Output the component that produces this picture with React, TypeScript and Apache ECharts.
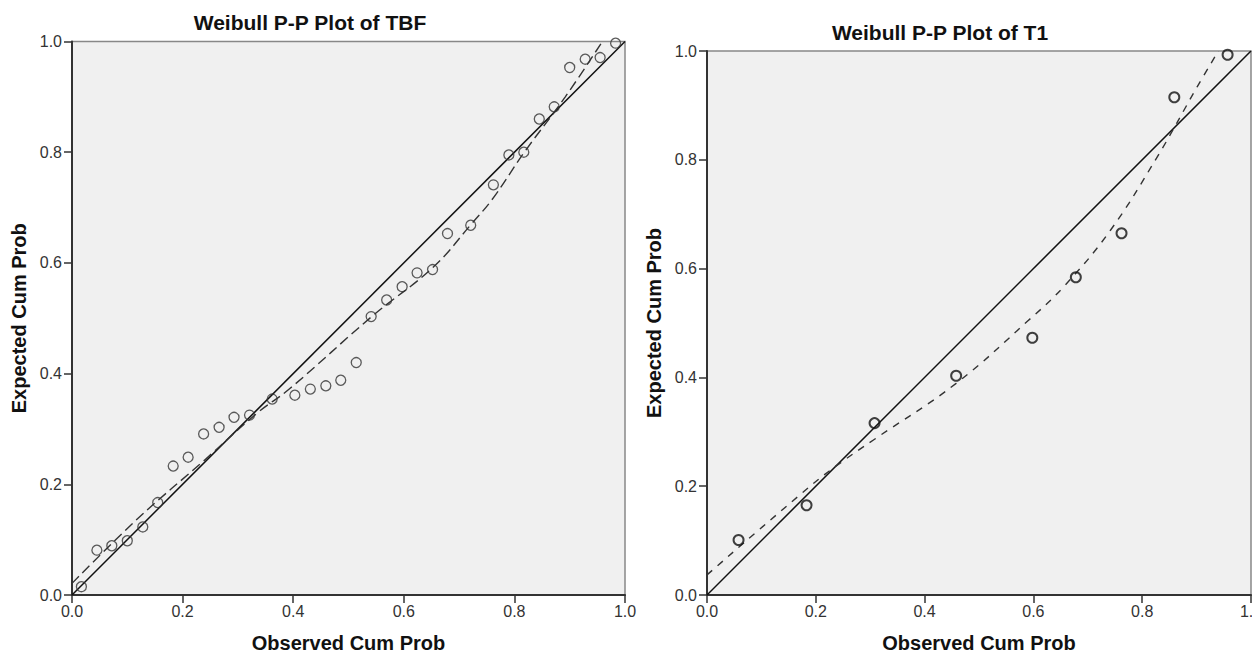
import React, { useEffect, useRef } from "react";
import * as echarts from "echarts";

// ---- TBF (left panel) ----
const tbfObserved = [
  0.017, 0.045, 0.072, 0.1, 0.128, 0.155, 0.183, 0.21, 0.238, 0.266, 0.293, 0.321,
  0.362, 0.403, 0.431, 0.459, 0.486, 0.514, 0.541, 0.569, 0.597, 0.624, 0.652, 0.679,
  0.721, 0.762, 0.79, 0.817, 0.845, 0.872, 0.9, 0.928, 0.955, 0.983,
];
const tbfExpected = [
  0.015, 0.081, 0.089, 0.098, 0.123, 0.167, 0.233, 0.249, 0.291, 0.303, 0.321, 0.325,
  0.354, 0.361, 0.372, 0.378, 0.388, 0.42, 0.503, 0.533, 0.557, 0.582, 0.588, 0.653,
  0.668, 0.741, 0.795, 0.8, 0.86, 0.882, 0.953, 0.968, 0.971, 0.997,
];
const tbfFitX = [0, 0.12, 0.24, 0.334, 0.394, 0.542, 0.654, 0.722, 0.76, 0.818, 0.892, 0.959];
const tbfFitY = [0.021, 0.139, 0.244, 0.328, 0.373, 0.503, 0.593, 0.67, 0.715, 0.8, 0.9, 1.0];

// ---- T1 (right panel) ----
const t1Observed = [0.058, 0.183, 0.308, 0.458, 0.598, 0.678, 0.762, 0.859, 0.957];
const t1Expected = [0.101, 0.165, 0.316, 0.403, 0.473, 0.584, 0.665, 0.915, 0.993];
const t1FitX = [0, 0.192, 0.244, 0.306, 0.458, 0.59, 0.656, 0.742, 0.828, 0.901, 0.94];
const t1FitY = [0.037, 0.202, 0.242, 0.285, 0.389, 0.504, 0.567, 0.671, 0.806, 0.934, 1.0];

// reference line
const refX = [0, 1];
const refY = [0, 1];

const titles = ["Weibull P-P Plot of TBF", "Weibull P-P Plot of T1"];
const xTitle = "Observed Cum Prob";
const yTitle = "Expected Cum Prob";

const FONT = '"Liberation Sans", Arial, sans-serif';

const zip = (a: number[], b: number[]) => a.map((v, i) => [v, b[i]]);

function axis(gridIndex: number, isX: boolean) {
  return {
    type: "value",
    gridIndex,
    min: 0,
    max: 1,
    interval: 0.2,
    name: isX ? xTitle : yTitle,
    nameLocation: "middle",
    nameGap: isX ? 38 : 43,
    nameTextStyle: { fontFamily: FONT, fontWeight: "bold", fontSize: 20, color: "#111" },
    axisLine: { show: true, lineStyle: { color: "#333", width: 2 } },
    axisTick: { show: true, inside: false, length: 8, lineStyle: { color: "#333", width: 1.5 } },
    axisLabel: {
      fontFamily: FONT,
      fontSize: 16,
      color: "#333",
      margin: isX ? 8 : 10,
      formatter: (v: number) => v.toFixed(1),
    },
    splitLine: { show: false },
  };
}

function panelSeries(idx: number, ox: number[], oy: number[], fx: number[], fy: number[], dash: number[], ptBorder: number, ptColor: string) {
  return [
    {
      type: "line",
      xAxisIndex: idx,
      yAxisIndex: idx,
      data: zip(refX, refY),
      showSymbol: false,
      lineStyle: { color: "#111", width: 1.5 },
      z: 2,
    },
    {
      type: "line",
      xAxisIndex: idx,
      yAxisIndex: idx,
      data: zip(fx, fy),
      showSymbol: false,
      smooth: 0.4,
      lineStyle: { color: "#333", width: 1.4, type: dash },
      z: 2,
    },
    {
      type: "scatter",
      xAxisIndex: idx,
      yAxisIndex: idx,
      data: zip(ox, oy),
      symbol: "circle",
      symbolSize: 10,
      itemStyle: { color: "rgba(0,0,0,0)", borderColor: ptColor, borderWidth: ptBorder },
      z: 3,
    },
  ];
}

export default function App() {
  const ref = useRef<HTMLDivElement>(null);
  useEffect(() => {
    if (!ref.current) return;
    const chart = echarts.init(ref.current, null, { renderer: "svg" });
    chart.setOption({
      animation: false,
      backgroundColor: "#ffffff",
      grid: [
        {
          left: 72, top: 41.5, width: 553, height: 553.5,
          show: true, backgroundColor: "#f0f0f0", borderColor: "#888", borderWidth: 1.5,
          containLabel: false, outerBoundsMode: "none",
        },
        {
          left: 707, top: 51, width: 544, height: 544,
          show: true, backgroundColor: "#f0f0f0", borderColor: "#888", borderWidth: 1.5,
          containLabel: false, outerBoundsMode: "none",
        },
      ],
      xAxis: [axis(0, true), axis(1, true)],
      yAxis: [axis(0, false), axis(1, false)],
      series: [
        ...panelSeries(0, tbfObserved, tbfExpected, tbfFitX, tbfFitY, [10, 5], 1.3, "#333"),
        ...panelSeries(1, t1Observed, t1Expected, t1FitX, t1FitY, [7, 7], 2, "#111"),
      ],
      graphic: [
        {
          type: "text", x: 310, y: 22,
          style: { text: titles[0], font: `bold 21px ${FONT}`, fill: "#111", textAlign: "center", textVerticalAlign: "middle" },
        },
        {
          type: "text", x: 940, y: 32.5,
          style: { text: titles[1], font: `bold 21px ${FONT}`, fill: "#111", textAlign: "center", textVerticalAlign: "middle" },
        },
      ],
    });
    return () => chart.dispose();
  }, []);
  return (
    <div
      ref={ref}
      style={{ position: "absolute", left: 0, top: 0, width: 1252, height: 654 }}
    />
  );
}
